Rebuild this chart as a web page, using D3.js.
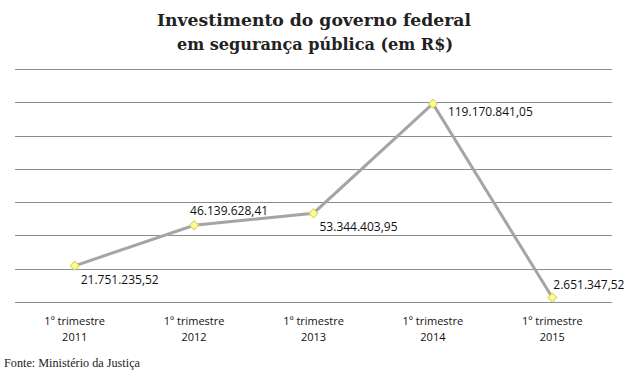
<!DOCTYPE html>
<html>
<head>
    <meta charset="utf-8">
    <style>
        body { margin: 0; background: #fff; }
        .title { font-family: "DejaVu Serif", serif; font-weight: bold; font-size: 17px; fill: #222; text-anchor: middle; }
        .lbl { font-family: "Open Sans", sans-serif; font-size: 12px; fill: #111; }
        .tick text { font-family: "Open Sans", sans-serif; font-size: 11px; fill: #111; }
        .src { font-family: "Liberation Serif", serif; font-size: 12px; fill: #222; }
    </style>
</head>
<body>
<svg width="628" height="376"></svg>
<script src="https://d3js.org/d3.v7.min.js"></script>
<script>
    // Data
    var periods = ["1º trimestre|2011", "1º trimestre|2012", "1º trimestre|2013", "1º trimestre|2014", "1º trimestre|2015"];
    var values = [21751235.52, 46139628.41, 53344403.95, 119170841.05, 2651347.52];
    var valueLabels = ["21.751.235,52", "46.139.628,41", "53.344.403,95", "119.170.841,05", "2.651.347,52"];
    var labelPos = ["below", "above", "below", "right", "above"];
    var gridTicks = [0, 20e6, 40e6, 60e6, 80e6, 100e6, 120e6, 140e6];

    var svg = d3.select("svg");

    var x = d3.scaleBand().domain(periods).range([15, 612]);
    var y = d3.scaleLinear().domain([0, 140e6]).range([302, 69]);

    // Title
    svg.append("text").attr("class", "title").attr("x", 314).attr("y", 26)
        .attr("textLength", 314).attr("lengthAdjust", "spacingAndGlyphs")
        .text("Investimento do governo federal");
    svg.append("text").attr("class", "title").attr("x", 315).attr("y", 50)
        .attr("textLength", 276).attr("lengthAdjust", "spacingAndGlyphs")
        .text("em segurança pública (em R$)");

    // Gridlines
    svg.append("g").selectAll("line")
        .data(gridTicks)
        .enter().append("line")
        .attr("x1", 15).attr("x2", 612)
        .attr("y1", function (d) { return Math.round(y(d)) + 0.5; })
        .attr("y2", function (d) { return Math.round(y(d)) + 0.5; })
        .attr("stroke", "#8c8c8c")
        .attr("stroke-width", 1);

    // X axis labels
    var xAxis = svg.append("g").attr("class", "tick");
    xAxis.selectAll("text")
        .data(periods)
        .enter().append("text")
        .attr("text-anchor", "middle")
        .attr("x", function (d) { return x(d) + x.bandwidth() / 2; })
        .attr("y", 325)
        .each(function (d) {
            var parts = d.split("|");
            d3.select(this).append("tspan").attr("x", x(d) + x.bandwidth() / 2).text(parts[0]);
            d3.select(this).append("tspan").attr("x", x(d) + x.bandwidth() / 2).attr("dy", 16).text(parts[1]);
        });

    var cx = function (i) { return x(periods[i]) + x.bandwidth() / 2; };

    // Line
    var line = d3.line()
        .x(function (d, i) { return cx(i); })
        .y(function (d) { return y(d); });
    svg.append("path")
        .datum(values)
        .attr("fill", "none")
        .attr("stroke", "#a5a5a5")
        .attr("stroke-width", 3)
        .attr("d", line);

    // Markers (square turned 45deg)
    svg.selectAll(".mk")
        .data(values)
        .enter().append("path")
        .attr("class", "mk")
        .attr("d", d3.symbol().type(d3.symbolSquare).size(40))
        .attr("transform", function (d, i) { return "translate(" + cx(i) + "," + y(d) + ") rotate(45)"; })
        .attr("fill", "#ffff88")
        .attr("stroke", "#d6d46c")
        .attr("stroke-width", 1);

    // Value labels
    svg.selectAll(".lbl")
        .data(values)
        .enter().append("text")
        .attr("class", "lbl")
        .attr("x", function (d, i) {
            var p = labelPos[i];
            if (p === "below") return cx(i) + 6;
            if (p === "right") return cx(i) + 15;
            if (i === 4) return cx(i) + 1;
            return cx(i) - 4;
        })
        .attr("y", function (d, i) {
            var p = labelPos[i];
            if (p === "below") return y(d) + 18;
            if (p === "right") return y(d) + 12;
            if (i === 4) return y(d) - 9;
            return y(d) - 10;
        })
        .text(function (d, i) { return valueLabels[i]; });

    // Source
    svg.append("text").attr("class", "src").attr("x", 4).attr("y", 367)
        .attr("textLength", 136).attr("lengthAdjust", "spacingAndGlyphs")
        .text("Fonte: Ministério da Justiça");
</script>
</body>
</html>
